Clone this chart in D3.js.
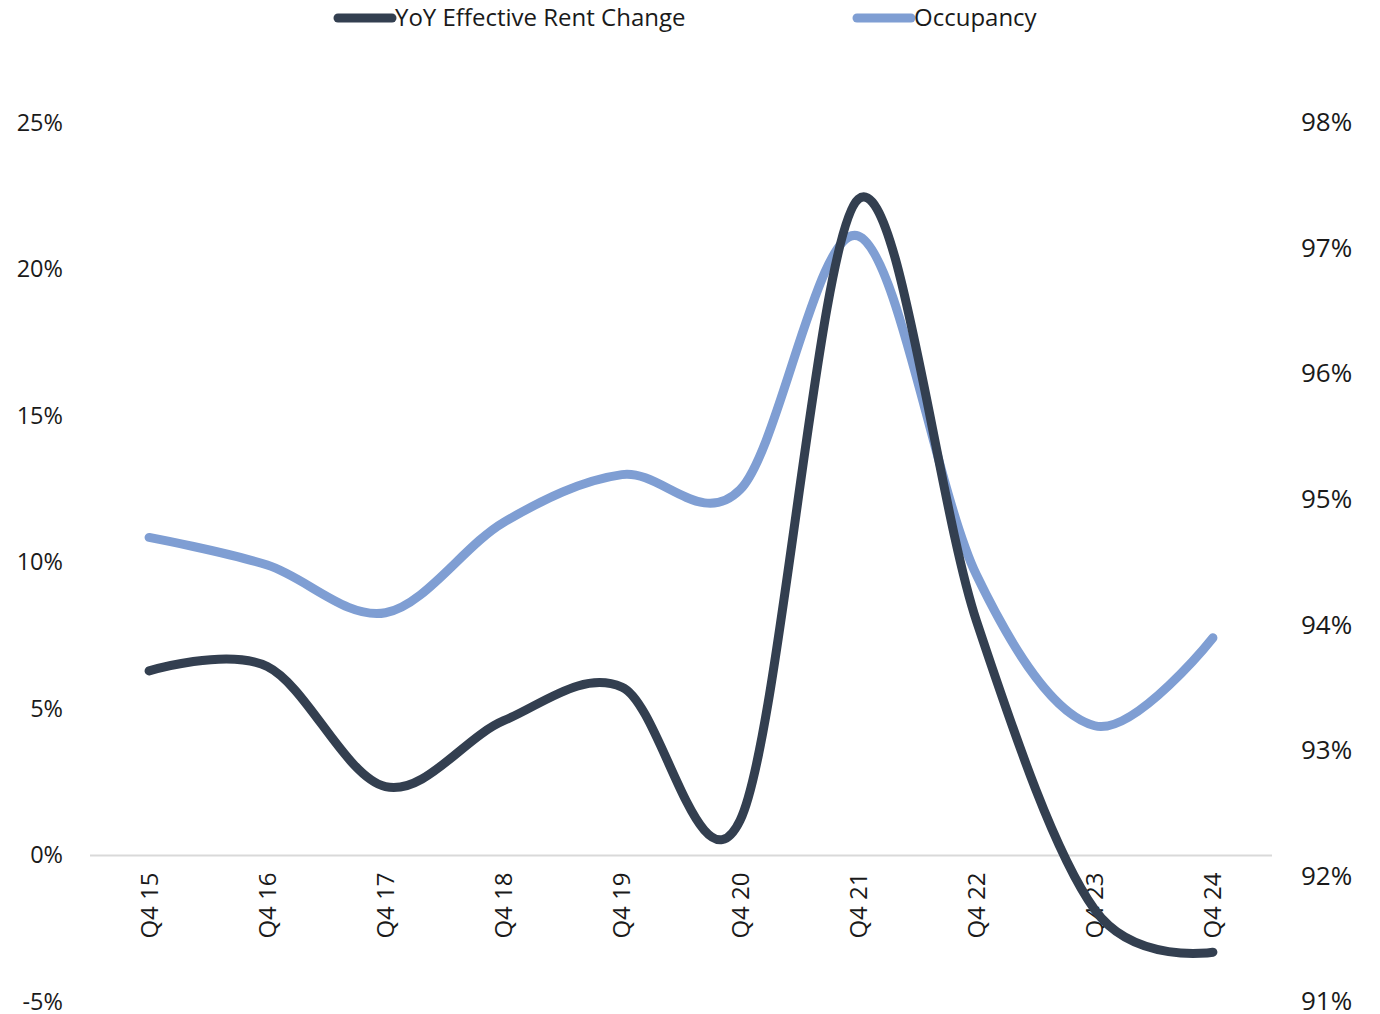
<!DOCTYPE html>
<html>
<head>
<meta charset="utf-8">
<script src="https://cdn.jsdelivr.net/npm/d3@7"></script>
<style>
  html, body { margin: 0; padding: 0; background: #fff; }
  svg text { font-family: "Open Sans", "Noto Sans", sans-serif; fill: #1a1a1a; }
</style>
</head>
<body>
<svg id="chart" width="1380" height="1014"></svg>
<script>
// Quarterly categories
const quarters = ["Q4 15", "Q4 16", "Q4 17", "Q4 18", "Q4 19", "Q4 20", "Q4 21", "Q4 22", "Q4 23", "Q4 24"];
// Year-over-year effective rent change (%), left axis
const rentChange = [6.3, 6.45, 2.35, 4.6, 5.75, 1.2, 22.4, 8.0, -1.85, -3.3];
// Occupancy (%), right axis
const occupancy = [94.7, 94.48, 94.1, 94.82, 95.2, 95.08, 97.1, 94.4, 93.2, 93.9];
// Axis ticks
const leftTicks = [-5, 0, 5, 10, 15, 20, 25];
const rightTicks = [91, 92, 93, 94, 95, 96, 97, 98];
const seriesNames = ["YoY Effective Rent Change", "Occupancy"];
const seriesColors = ["#333f50", "#7f9ed3"];

const svg = d3.select("#chart");

const x = d3.scaleBand().domain(quarters).range([90, 1272]);
const yLeft = d3.scaleLinear().domain([-5, 25]).range([1002, 123]);
const yRight = d3.scaleLinear().domain([91, 98]).range([1002, 123]);
const cx = q => x(q) + x.bandwidth() / 2;

// Zero baseline
svg.append("line")
  .attr("x1", 90).attr("x2", 1272)
  .attr("y1", yLeft(0)).attr("y2", yLeft(0))
  .attr("stroke", "#d9d9d9").attr("stroke-width", 2);

// Left axis labels
const leftAxis = d3.axisLeft(yLeft).tickValues(leftTicks).tickSize(0).tickPadding(0)
  .tickFormat(d => d + "%");
svg.append("g").attr("transform", "translate(63,0)").call(leftAxis)
  .call(g => g.select(".domain").remove())
  .selectAll("text").attr("font-size", 23.5).attr("dy", "0.3em")
  .attr("font-family", "Open Sans").attr("fill", "#1a1a1a");

// Right axis labels
const rightAxis = d3.axisRight(yRight).tickValues(rightTicks).tickSize(0).tickPadding(0)
  .tickFormat(d => d + "%");
svg.append("g").attr("transform", "translate(1301,0)").call(rightAxis)
  .call(g => g.select(".domain").remove())
  .selectAll("text").attr("font-size", 26).attr("dy", "0.3em")
  .attr("font-family", "Open Sans").attr("fill", "#1a1a1a");

// Category labels, rotated
const bottomAxis = d3.axisBottom(x).tickSize(0).tickPadding(0);
svg.append("g").attr("transform", `translate(0,${yLeft(0)})`).call(bottomAxis)
  .call(g => g.select(".domain").remove())
  .selectAll("text")
  .attr("font-size", 24).attr("font-family", "Open Sans").attr("fill", "#1a1a1a")
  .attr("text-anchor", "end")
  .attr("transform", "translate(0,17) rotate(-90)")
  .attr("x", 0).attr("y", 0).attr("dy", "0.35em");

// Smoothed series lines
const rentLine = d3.line()
  .x((d, i) => cx(quarters[i]))
  .y(d => yLeft(d))
  .curve(d3.curveCatmullRom.alpha(0));
const occLine = d3.line()
  .x((d, i) => cx(quarters[i]))
  .y(d => yRight(d))
  .curve(d3.curveCatmullRom.alpha(0));

svg.append("path").datum(occupancy)
  .attr("d", occLine).attr("fill", "none")
  .attr("stroke", seriesColors[1]).attr("stroke-width", 9)
  .attr("stroke-linecap", "round").attr("stroke-linejoin", "round");

svg.append("path").datum(rentChange)
  .attr("d", rentLine).attr("fill", "none")
  .attr("stroke", seriesColors[0]).attr("stroke-width", 9)
  .attr("stroke-linecap", "round").attr("stroke-linejoin", "round");

// Legend
const legendX = [338, 857];
const legend = svg.append("g");
seriesNames.forEach((name, i) => {
  legend.append("line")
    .attr("x1", legendX[i]).attr("x2", legendX[i] + 54)
    .attr("y1", 18).attr("y2", 18)
    .attr("stroke", seriesColors[i]).attr("stroke-width", 9)
    .attr("stroke-linecap", "round");
  legend.append("text")
    .attr("x", legendX[i] + 57).attr("y", 18).attr("dy", "0.35em")
    .attr("font-size", 24).text(name);
});
</script>
</body>
</html>
